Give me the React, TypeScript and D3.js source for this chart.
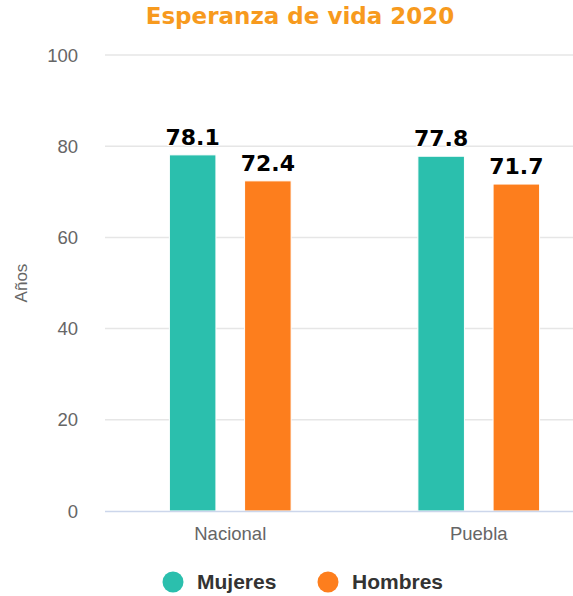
import React from "react";
import * as d3 from "d3";

const categories = ["Nacional", "Puebla"];
const seriesNames = ["Mujeres", "Hombres"];
const mujeres = [78.1, 77.8];
const hombres = [72.4, 71.7];
const yTicks = [0, 20, 40, 60, 80, 100];
const colors = ["#2bbfad", "#fd7e1d"];

const W = 573;
const H = 596;
const plotLeft = 106;
const plotRight = 603;
const plotTop = 55;
const plotBottom = 511;

export default function App() {
  const x = d3.scaleBand<string>().domain(categories).range([plotLeft, plotRight]);
  const inner = d3.scaleBand<string>().domain(seriesNames).range([0, x.bandwidth()]).paddingInner(0.381).paddingOuter(0.843);
  const y = d3.scaleLinear().domain([0, 100]).range([plotBottom, plotTop]);
  const data = [mujeres, hombres];

  return (
    <svg width={W} height={H} style={{ position: "absolute", left: 0, top: 0, background: "#fff" }}>
      <text x={300} y={24} textAnchor="middle" fontFamily="DejaVu Sans" fontWeight="bold" fontSize={23} fill="#f79a1e">
        Esperanza de vida 2020
      </text>
      {yTicks.map((t) => (
        <g key={t}>
          {t !== 0 && <line x1={plotLeft - 1} x2={W} y1={y(t)} y2={y(t)} stroke="#e6e6e6" strokeWidth={1.5} />}
          <text x={78} y={y(t) + 6.5} textAnchor="end" fontFamily="Liberation Sans, Arial" fontSize={18.5} fill="#666">
            {t}
          </text>
        </g>
      ))}
      <text transform={`translate(27,${283}) rotate(-90)`} textAnchor="middle" fontFamily="Liberation Sans, Arial" fontSize={17} fill="#666">
        Años
      </text>
      {categories.map((c, ci) =>
        seriesNames.map((s, si) => {
          const v = data[si][ci];
          const bx = (x(c) as number) + (inner(s) as number);
          const bw = inner.bandwidth();
          return (
            <g key={c + s}>
              <rect x={bx} y={y(v)} width={bw} height={plotBottom - y(v)} fill={colors[si]} stroke="#fff" strokeWidth={1} />
              <text
                x={bx + bw / 2}
                y={y(v) - 10}
                textAnchor="middle"
                fontFamily="DejaVu Sans"
                fontWeight="bold"
                fontSize={22}
                fill="#000"
                stroke="#fff"
                strokeWidth={2}
                paintOrder="stroke"
              >
                {v}
              </text>
            </g>
          );
        })
      )}
      <line x1={plotLeft - 1} x2={W} y1={plotBottom + 0.5} y2={plotBottom + 0.5} stroke="#ccd6eb" strokeWidth={1.5} />
      {categories.map((c) => (
        <text key={c} x={(x(c) as number) + x.bandwidth() / 2} y={540} textAnchor="middle" fontFamily="Liberation Sans, Arial" fontSize={18.5} fill="#666">
          {c}
        </text>
      ))}
      {seriesNames.map((s, i) => {
        const cx = [173, 328][i];
        return (
          <g key={s}>
            <circle cx={cx} cy={582} r={10.5} fill={colors[i]} />
            <text x={cx + 24} y={589} fontFamily="Liberation Sans, Arial" fontWeight="bold" fontSize={21} fill="#333">
              {s}
            </text>
          </g>
        );
      })}
    </svg>
  );
}
